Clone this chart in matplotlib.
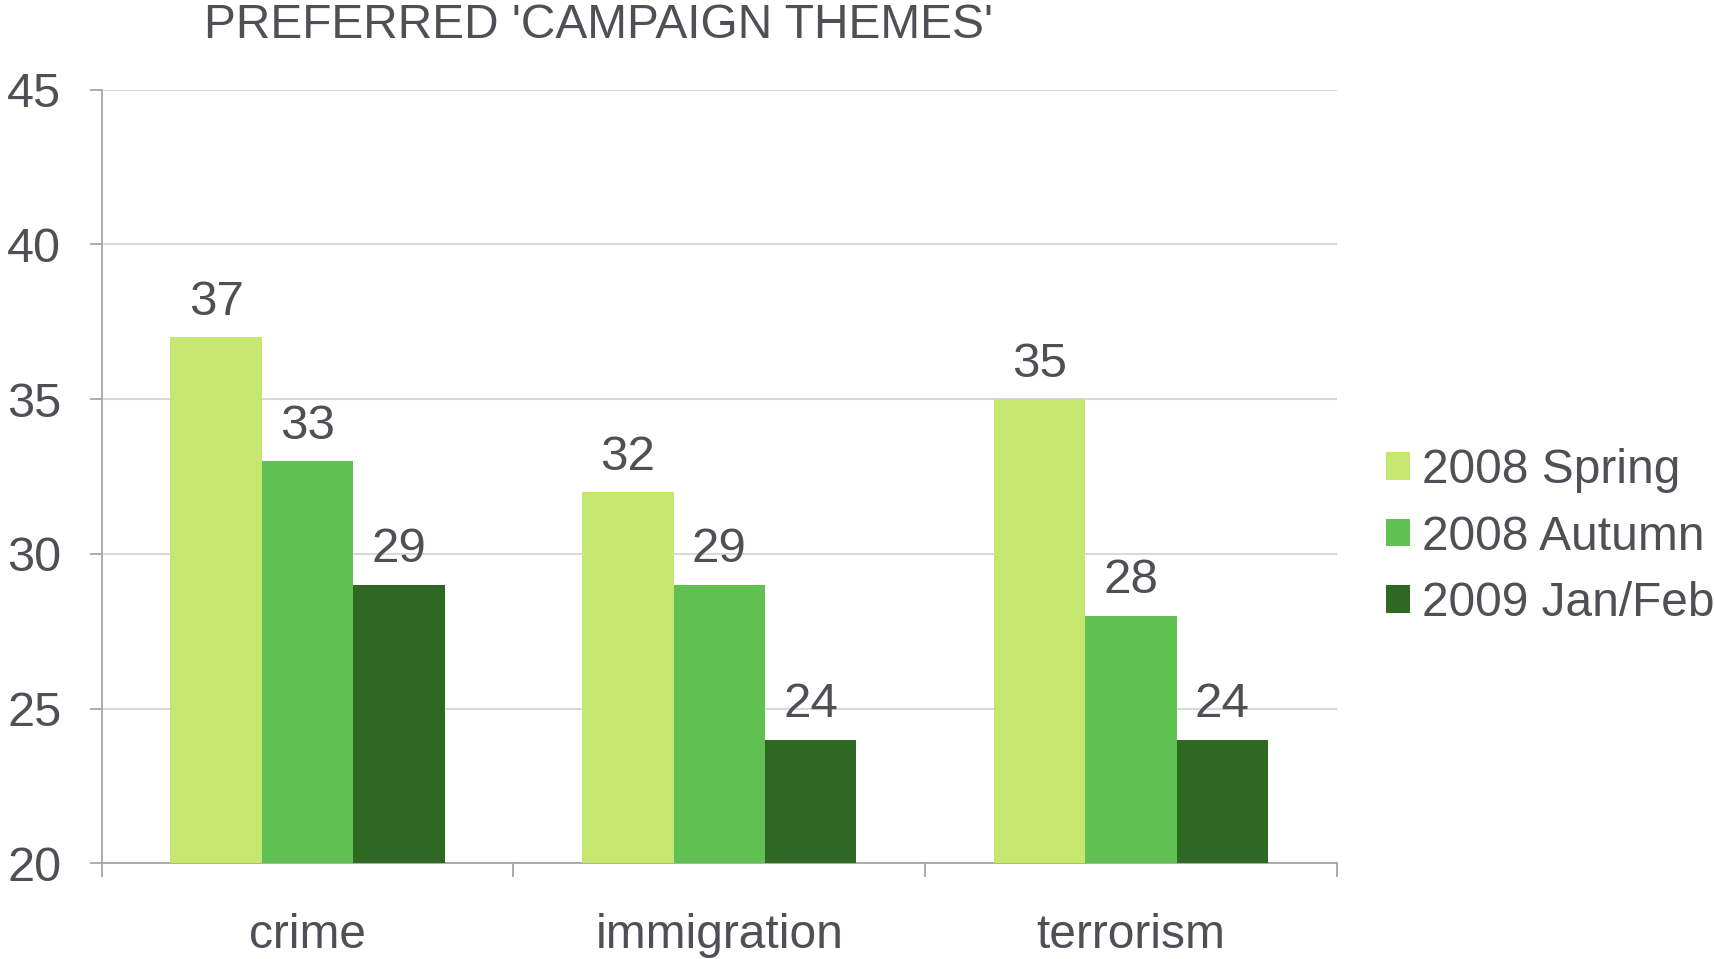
import matplotlib
matplotlib.use("Agg")
import matplotlib.pyplot as plt
import numpy as np
from matplotlib.patches import Patch

plt.rcParams['font.family'] = ['Liberation Sans', 'DejaVu Sans']

categories = ["crime", "immigration", "terrorism"]
series_names = ["2008 Spring", "2008 Autumn", "2009 Jan/Feb"]
spring_2008 = [37, 32, 35]
autumn_2008 = [33, 29, 28]
janfeb_2009 = [29, 24, 24]
yticks = [20, 25, 30, 35, 40, 45]
title = "PREFERRED 'CAMPAIGN THEMES'"

colors = ["#c5e66f", "#60c152", "#2e6823"]
text_color = "#4f5055"

fig = plt.figure(figsize=(17.14, 9.59), dpi=100)
ax = fig.add_axes([0.0593, 0.0996, 0.7207, 0.807])

x = np.arange(len(categories))
w = 0.222
series = [spring_2008, autumn_2008, janfeb_2009]
for i, (vals, c, name) in enumerate(zip(series, colors, series_names)):
    ax.bar(x + (i - 1) * w, np.array(vals) - 20, width=w, bottom=20,
           color=c, label=name, zorder=3)
    for xi, v in zip(x + (i - 1) * w, vals):
        ax.annotate(str(v), (xi, v), xytext=(0, 9), textcoords="offset points",
                    ha="center", va="bottom", fontsize=35.5, color=text_color)

ax.set_xlim(-0.5, 2.5)
ax.set_ylim(20, 45)
ax.set_yticks(yticks)
ax.set_yticklabels([str(t) for t in yticks])
ax.yaxis.grid(True, color="#d9d9d9", linewidth=1.5, zorder=0)
ax.set_axisbelow(True)

ax.set_xticks(x)
ax.set_xticklabels(categories)
ax.tick_params(axis="x", which="major", length=0, pad=36, labelsize=34.5, labelcolor=text_color)
ax.set_xticks([-0.5, 0.5, 1.5, 2.5], minor=True)
ax.tick_params(axis="x", which="minor", length=10, width=1.3, color="#a6a6a6", direction="out")
ax.tick_params(axis="y", length=9, width=1.3, color="#a6a6a6", pad=20, labelsize=35,
               labelcolor=text_color)

for s in ["top", "right"]:
    ax.spines[s].set_visible(False)
for s in ["left", "bottom"]:
    ax.spines[s].set_color("#a6a6a6")
    ax.spines[s].set_linewidth(1.3)

fig.text(204 / 1714, 1 - 26 / 959, title, fontsize=34.5, color=text_color, ha="left", va="center")

handles = [Patch(facecolor=c, edgecolor="none") for c in colors]
leg = fig.legend(handles, series_names, loc="center left",
                 bbox_to_anchor=(1386 / 1714, 1 - 537 / 959), frameon=False,
                 fontsize=34.5, handlelength=0.5, handleheight=0.5, handletextpad=0.25,
                 labelspacing=0.45, borderpad=0, borderaxespad=0)
for t in leg.get_texts():
    t.set_color(text_color)

fig.savefig("out.png", dpi=100, facecolor="white")
